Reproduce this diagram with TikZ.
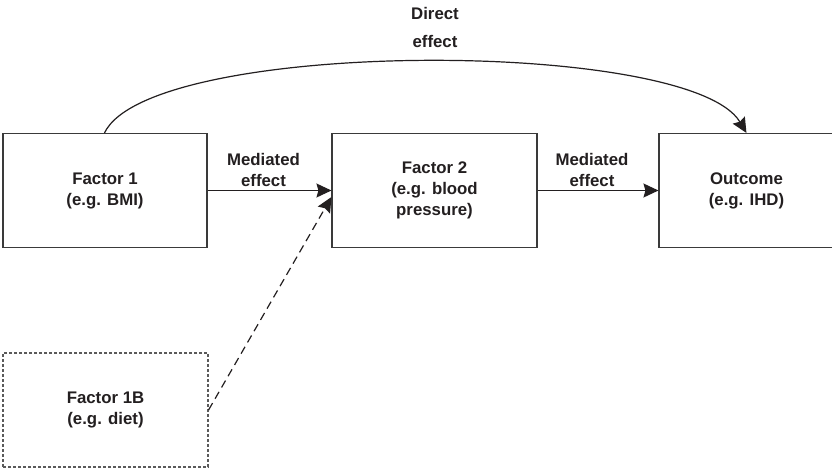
\documentclass[tikz,border=0pt]{standalone}
\usepackage{fontspec}
\setmainfont{Liberation Sans}
\usetikzlibrary{arrows.meta}
\definecolor{ink}{HTML}{231F20}
\definecolor{boxline}{HTML}{3A3A3A}
\definecolor{dashgray}{HTML}{5A5A5A}
\tikzset{
  txt/.style={font=\fontsize{16.8}{21}\selectfont\bfseries, text=ink, align=center},
  factorbox/.style={txt, draw=boxline, line width=1.1pt, minimum height=114pt, inner sep=0pt},
  dashbox/.style={factorbox, draw=dashgray, dash pattern=on 3pt off 2pt},
  arr/.style={draw=ink, line width=1.2pt, -{Stealth[length=15pt, width=14pt, inset=2pt]}},
  lbl/.style={txt}
}
\begin{document}
\begin{tikzpicture}[x=1pt, y=-1pt]
  \clip (0,0) rectangle (832,469);
  \fill[white] (0,0) rectangle (832,469);
  \node[factorbox, minimum width=204pt] (f1) at (105,190.5) {Factor 1\\(e.g. BMI)};
  \node[factorbox, minimum width=205pt] (f2) at (434.5,190.5) {Factor 2\\(e.g. blood\\pressure)};
  \node[factorbox, minimum width=175pt] (out) at (746.5,190.5) {Outcome\\(e.g. IHD)};
  \node[dashbox, minimum width=205pt] (f1b) at (105.5,410) {Factor 1B\\(e.g. diet)};
  \node[lbl] (m1) at (263.5,170) {Mediated\\effect};
  \node[lbl] (m2) at (592,170) {Mediated\\effect};
  \node[lbl, font=\fontsize{16.8}{28}\selectfont\bfseries] (de) at (435,27) {Direct\\effect};
  \draw[arr] (f1.east) -- (f2.west);
  \draw[arr] (f2.east) -- (out.west);
  \draw[arr] ([xshift=102pt]f1.north west) .. controls (150,38) and (690,38) .. ([xshift=88pt]out.north west);
  \draw[arr, dash pattern=on 8pt off 5pt] (f1b.east) -- ([yshift=-6.5pt]f2.west);
\end{tikzpicture}
\end{document}
